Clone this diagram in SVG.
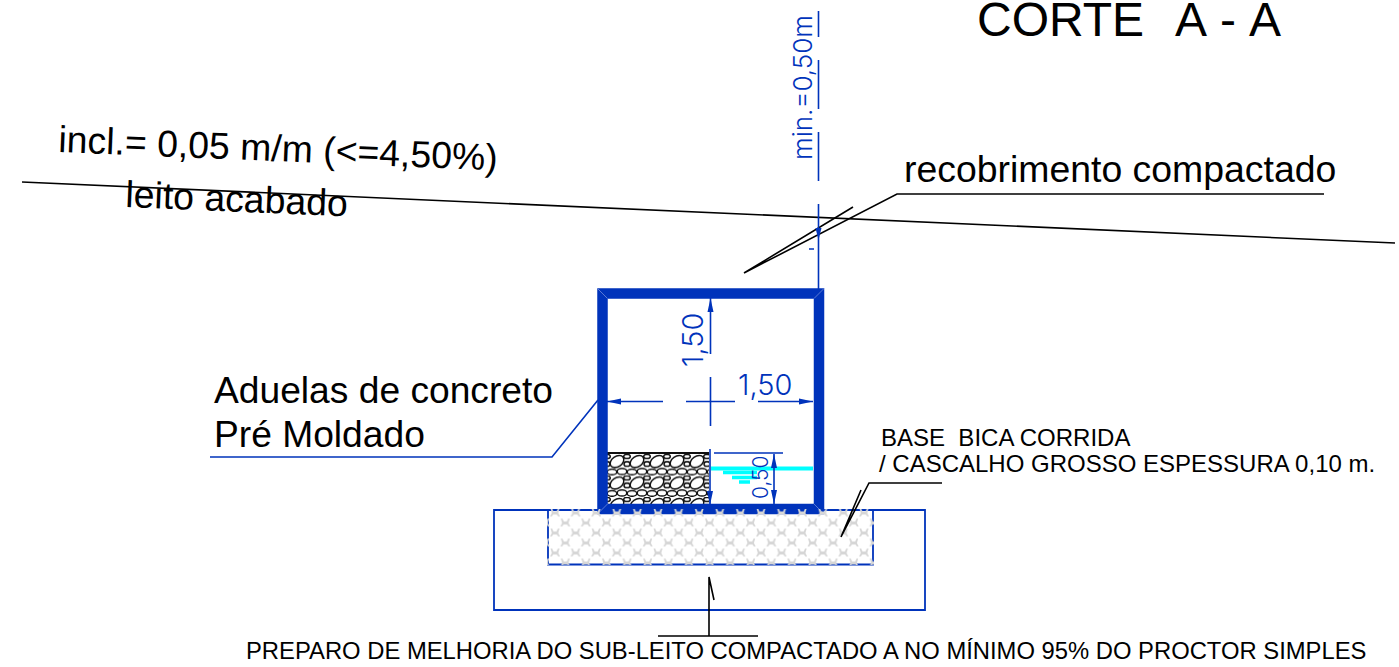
<svg xmlns="http://www.w3.org/2000/svg" width="1399" height="667" viewBox="0 0 1399 667">
<style>
.t{font-family:"Liberation Sans",Arial,sans-serif;fill:#000;white-space:pre}
.d{font-family:"Inter","DejaVu Sans",sans-serif;font-weight:300;fill:#0033bb}
.k{fill:none;stroke:#000;stroke-width:1.600}
.b{fill:none;stroke:#0033bb;stroke-width:1.600}
.a{fill:#0033bb}
</style>
<defs>
<pattern id="bica" width="20.600" height="20" patternUnits="userSpaceOnUse" x="548" y="508.500">
<g fill="#d6d6d6">
<path d="M2.500 0h1.600l1.400 3h3L9.900 0h1.600l-1.300 4.500 1.800 3.500H10.300L8.700 6H5.300L3.700 8H2l1.800-3.500z"/>
<path d="M12.800 10h1.600l1.400 3h3l1.400-3h1.600l-1.300 4.500 1.800 3.500h-1.700L19 16h-3.400L14 18h-1.700l1.800-3.500z"/>
<path d="M-7.800 10h1.600l1.400 3h3l1.400-3h1.600l-1.300 4.500 1.800 3.500H0L-1.600 16H-5L-6.600 18h-1.700l1.800-3.500z"/>
</g>
</pattern>
<pattern id="grav" width="20" height="21.500" patternUnits="userSpaceOnUse" x="607" y="454">
<rect width="20" height="21.500" fill="#fff"/>
<g fill="#fff" stroke="#111" stroke-width="1.500">
<ellipse cx="5" cy="18" rx="4.800" ry="2.800"/>
<ellipse cx="15" cy="17.500" rx="4.800" ry="3"/>
<ellipse cx="19.500" cy="2.500" rx="2.800" ry="2"/>
<ellipse cx="0.500" cy="2.500" rx="2.800" ry="2"/>
<ellipse cx="19.500" cy="10" rx="2.500" ry="2.300"/>
<ellipse cx="0.500" cy="10" rx="2.500" ry="2.300"/>
<ellipse cx="10" cy="7.500" rx="7.500" ry="5.200" transform="rotate(-35 10 7.500)"/>
</g>
</pattern>
</defs>
<rect width="1399" height="667" fill="#fff"/>

<g id="base">
<path d="M598 510H494V610H925V510H824" fill="#fff" stroke="#0033bb" stroke-width="1.800"/>
</g>

<g id="gravel">
<rect x="607" y="453" width="102" height="52" fill="url(#grav)"/>
<path d="M607 453H709" stroke="#111" stroke-width="2.200" fill="none"/>
</g>

<g id="water">
<path d="M711 468.500H813" stroke="#00ffff" stroke-width="4" fill="none"/>
<path d="M723 472.500H757M732 477.500H757M739 482H750" stroke="#00ffff" stroke-width="3.500" fill="none"/>
</g>

<g id="aduela">
<rect x="602.500" y="293.500" width="216.500" height="215.500" fill="none" stroke="#0033bb" stroke-width="10.500"/>
<path d="M597.500 288.500L607.500 298.500M824 288.500L814 298.500M597.500 514L607.500 504M824 514L814 504" stroke="#7f97e0" stroke-width="0.700" fill="none"/>
</g>
<g id="bica-fill">
<path d="M548 510V564.500H873V510M548 510H598M824 510H873" fill="none" stroke="#0033bb" stroke-width="1.800"/>
<rect x="547" y="509" width="327" height="56" fill="url(#bica)"/>
</g>

<g id="connectors">
<path class="k" d="M22 182L1395 243"/>
<path class="k" d="M744 273L853 207M744 273L897 194H1324"/>
<path class="k" d="M942 483H869L841 537L861 490"/>
<path class="k" d="M758 636H658M709 636V577L714 600"/>
<path class="b" d="M210 457H552L598 400"/>
<path class="b" d="M818.500 11V37M818.500 60V109M818.500 132V181M818.500 204V289M809 249H814"/>
<path class="a" d="M818.500 240l-3-12h6z"/>
<path class="b" d="M710.500 298V354M710.500 377V426M686 401.500H735M607 401.500H663M758 401.500H813"/>
<path class="a" d="M710.500 298l-3 14h6zM607 401.500l14-3v6zM813 401.500l-14-3v6z"/>
<path class="b" d="M710 449V505M714 453H783M774 454V504"/>
<path class="a" d="M710 505l-3-14h6zM774 454l-3 14h6zM774 504l-3-14h6z"/>
</g>

<g id="labels">
<text class="t" y="36" font-size="48"><tspan x="977">CORTE</tspan><tspan x="1175">A</tspan><tspan x="1220">-</tspan><tspan x="1249">A</tspan></text>
<text class="t" x="904" y="182" font-size="37.400">recobrimento compactado</text>
<text class="t" font-size="37.400" transform="translate(58 152) rotate(2.400)">incl.= 0,05 m/m (&lt;=4,50%)</text>
<text class="t" font-size="37.400" transform="translate(125 207) rotate(2.400)">leito acabado</text>
<text class="t" x="214" y="403" font-size="37.200">Aduelas de concreto</text>
<text class="t" x="214" y="447" font-size="37.200">Pré Moldado</text>
<text class="t" x="881" y="446" font-size="24">BASE  BICA CORRIDA</text>
<text class="t" x="879" y="472" font-size="24">/ CASCALHO GROSSO ESPESSURA 0,10 m.</text>
<text class="t" x="246" y="659" font-size="23.800">PREPARO DE MELHORIA DO SUB-LEITO COMPACTADO A NO MÍNIMO 95% DO PROCTOR SIMPLES</text>
<text class="d" x="738" y="395" font-size="29">1,50</text>
<text class="d" font-size="29" transform="translate(703 367) rotate(-90)">1,50</text>
<text class="d" font-size="21" transform="translate(768 499) rotate(-90)">0,50</text>
<text class="d" font-size="26" transform="translate(812 160) rotate(-90)">min.=0,50m</text>
</g>
</svg>
